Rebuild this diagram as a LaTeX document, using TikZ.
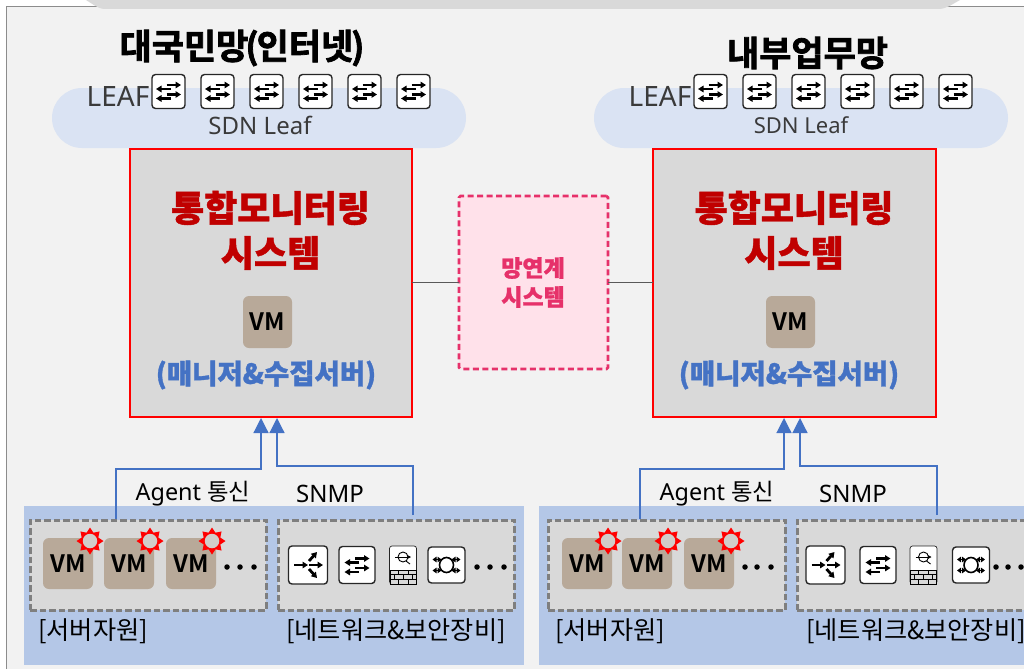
\documentclass[tikz,border=0pt]{standalone}
\usepackage{fontspec}
\setmainfont{Noto Sans CJK KR}[BoldFeatures={FakeBold=1.2}]
\newfontfamily\latinf{Noto Sans}
\newfontfamily\vmf{Noto Sans CJK KR Bold}
\newfontfamily\heavy{Noto Sans CJK KR Bold}[FakeBold=2.2]
\usetikzlibrary{arrows.meta,shapes.geometric,calc}
\definecolor{bgpanel}{HTML}{F2F2F2}
\definecolor{panelgray}{HTML}{D9D9D9}
\definecolor{pillblue}{HTML}{DAE3F3}
\definecolor{bandblue}{HTML}{B4C7E7}
\definecolor{vmtan}{HTML}{B8A999}
\definecolor{linkblue}{HTML}{4472C4}
\definecolor{pinkedge}{HTML}{E6316A}
\definecolor{pinkfill}{HTML}{FFE1EA}
\definecolor{darkred}{HTML}{C00000}
\definecolor{txtdark}{HTML}{3A3A3A}
\definecolor{dashgray}{HTML}{7F7F7F}
\tikzset{
  x=1pt,y=-1pt,
  fs/.style={font=\fontsize{#1}{#1}\selectfont},
  fsb/.style={font=\fontsize{#1}{#1}\selectfont\bfseries},
  fsh/.style={font=\fontsize{#1}{#1}\selectfont\heavy},
  plain/.style={inner sep=0pt,outer sep=0pt},
  pill/.style={plain,fill=pillblue,rounded corners=30pt},
  monbox/.style={plain,draw=red,line width=2.6pt,fill=panelgray},
  gatebox/.style={plain,draw=pinkedge,line width=2.6pt,fill=pinkfill,rounded corners=1.5pt,dash pattern=on 6pt off 3.5pt},
  band/.style={plain,fill=bandblue},
  groupbox/.style={plain,draw=dashgray,line width=3pt,fill=panelgray,dash pattern=on 6.5pt off 3pt},
  vmbox/.style={plain,fill=vmtan,rounded corners=6pt,minimum width=50pt,minimum height=51pt,font=\fontsize{24}{24}\selectfont\vmf,text=black},
  iconbox/.style={plain,draw=black!85,line width=1.4pt,fill=white,rounded corners=3.5pt},
  glyph/.style={line width=2.2pt,black,-{Triangle[width=6.5pt,length=5.5pt]}},
  feed/.style={linkblue,line width=1.2pt,-{Triangle[width=15pt,length=15pt]}},
  plainlink/.style={draw=black!65,line width=0.9pt},
  burst/.style={plain,star,star points=8,star point ratio=1.5,fill=red,minimum size=27pt},
  burstcore/.style={plain,circle,fill=#1,minimum size=14.5pt},
  dotmark/.style={plain,circle,fill=black,minimum size=5.5pt},
}
% name, cx, cy, w, h
\newcommand{\swicon}[5]{%
  \node[iconbox,minimum width=#4,minimum height=#5] (#1) at (#2,#3) {};
  \begin{scope}[shift={(#2,#3)}]
    \draw[glyph] (-2,-6.5) -- (12.5,-6.5);
    \draw[glyph] (2,-2.5) -- (-12.5,-2.5);
    \draw[glyph] (-2,3) -- (12.5,3);
    \draw[glyph] (2,7) -- (-12.5,7);
  \end{scope}}
\newcommand{\fanicon}[3]{%
  \node[iconbox,minimum width=39pt,minimum height=38pt] (#1) at (#2,#3) {};
  \begin{scope}[shift={(#2,#3)}]
    \draw[glyph] (-14,0) -- (0,0);
    \draw[glyph] (1,0) -- (15,0);
    \draw[glyph,line width=2.8pt] (1,-4) -- (9,-13);
    \draw[glyph,line width=2.8pt] (1,4) -- (9,13);
  \end{scope}}
\newcommand{\wallicon}[3]{%
  \node[iconbox,fill=white,line width=0.7pt,rounded corners=2.5pt,minimum width=27pt,minimum height=38pt] (#1) at (#2,#3) {};
  \begin{scope}[shift={(#2,#3)}]
    \draw[line width=0.9pt] (0,-8) circle (5);
    \draw[line width=0.8pt,-{Triangle[width=3.5pt,length=3.5pt]}] (-8,-8) -- (8,-8);
    \draw[line width=0.9pt] (3,-4) -- (7,-1);
    \draw[line width=0.5pt,fill=white!85!black] (-13,5) rectangle (13,19);
    \foreach \yy in {9.7,14.4} \draw[line width=0.5pt] (-13,\yy) -- (13,\yy);
    \foreach \xx in {-5,5} \draw[line width=0.5pt] (\xx,5) -- (\xx,9.7) (\xx,14.4) -- (\xx,19);
    \foreach \xx in {-9,0,9} \draw[line width=0.5pt] (\xx,9.7) -- (\xx,14.4);
  \end{scope}}
\newcommand{\ringicon}[3]{%
  \node[iconbox,minimum width=37pt,minimum height=36pt] (#1) at (#2,#3) {};
  \begin{scope}[shift={(#2,#3)}]
    \foreach \sx/\sy in {-1/-1,1/-1,-1/1,1/1}
      \draw[line width=1.6pt,black,{Triangle[width=5.5pt,length=4pt]}-{Triangle[width=5.5pt,length=4pt]}] (\sx*14,\sy*5.5) -- (\sx*5,\sy*5.5);
    \draw[line width=1.6pt,fill=white] (0,0) ellipse (7 and 7.5);
  \end{scope}}
\newcommand{\vmburst}[5]{% name, vm cx, vm cy, star cx, star cy
  \node[vmbox] (#1) at (#2,#3) {VM};
  \node[burst] (#1star) at (#4,#5) {};
  \node[burstcore=panelgray!75!vmtan] (#1core) at (#4,#5) {};}
\begin{document}
\begin{tikzpicture}
\useasboundingbox (0,0) rectangle (1024,669);
\clip (0,0) rectangle (1024,669);
\fill[white] (0,0) rectangle (1024,669);
\fill[bgpanel] (6,7) rectangle (1030,669);
\draw[black!45,line width=1pt] (6,669) -- (6,7) -- (1030,7);
\fill[panelgray] (84,-1) .. controls (92,3) and (96,8) .. (104,9) -- (940,9) .. controls (948,8) and (954,3) .. (962,-1) -- cycle;

% ---- left column
\node[fsh=35,plain] (titleL) at (241,48) {대국민망{\kern-3pt}({\kern-2pt}인터넷{\kern-2pt}){\kern-2pt}};
\node[pill,minimum width=414pt,minimum height=60pt] (pillL) at (259,118) {};
\node[fs=28,plain,text=txtdark] (leafL) at (118,96) {\latinf LEAF};
\node[fs=24,plain,text=txtdark] (sdnL) at (260,125) {\latinf SDN Leaf};
\swicon{swLa}{168.5}{91.5}{33pt}{34pt}
\swicon{swLb}{217.5}{91.5}{33pt}{34pt}
\swicon{swLc}{266.5}{91.5}{33pt}{34pt}
\swicon{swLd}{315.5}{91.5}{33pt}{34pt}
\swicon{swLe}{364.5}{91.5}{33pt}{34pt}
\swicon{swLf}{413.5}{91.5}{33pt}{34pt}

\node[monbox,minimum width=282pt,minimum height=268pt] (monL) at (271,283) {};
\node[fsb=36,plain,text=darkred] (monLa) at (270.5,208) {통합모니터링};
\node[fsb=36,plain,text=darkred] (monLb) at (270.5,253) {시스템};
\node[vmbox,minimum width=49pt,minimum height=52pt] (mgrL) at (267.5,322) {VM};
\node[fsb=27.5,plain,text=linkblue] (mgrLt) at (266,375) {(매니저\&수집서버)};

% ---- gateway
\node[gatebox,minimum width=149pt,minimum height=173pt] (gate) at (533.5,282.5) {};
\node[fsb=23,plain,text=pinkedge,align=center] (gateT) at (533,268) {망연계};
\node[fsb=23,plain,text=pinkedge,align=center] (gateB) at (533,297) {시스템};

% ---- right column
\node[fsh=35,plain] (titleR) at (807.5,53) {내부업무망};
\node[pill,minimum width=414pt,minimum height=60pt] (pillR) at (801,118) {};
\node[fs=28,plain,text=txtdark] (leafR) at (660,96) {\latinf LEAF};
\node[fs=22,plain,text=txtdark] (sdnR) at (801,125) {\latinf SDN Leaf};
\swicon{swRa}{710.5}{91.5}{33pt}{34pt}
\swicon{swRb}{759.5}{91.5}{33pt}{34pt}
\swicon{swRc}{808.5}{91.5}{33pt}{34pt}
\swicon{swRd}{857.5}{91.5}{33pt}{34pt}
\swicon{swRe}{906.5}{91.5}{33pt}{34pt}
\swicon{swRf}{955.5}{91.5}{33pt}{34pt}

\node[monbox,minimum width=283pt,minimum height=268pt] (monR) at (794.5,283) {};
\node[fsb=36,plain,text=darkred] (monRa) at (794,208) {통합모니터링};
\node[fsb=36,plain,text=darkred] (monRb) at (794,253) {시스템};
\node[vmbox,minimum width=49pt,minimum height=52pt] (mgrR) at (790.5,322) {VM};
\node[fsb=27.5,plain,text=linkblue] (mgrRt) at (789,375) {(매니저\&수집서버)};

\draw[plainlink] (monL.east |- gate.west) -- (gate.west);
\draw[plainlink] (gate.east) -- (monR.west |- gate.east);

% ---- bottom bands
\node[band,minimum width=500pt,minimum height=159pt] (bandL) at (274,585.5) {};
\node[band,minimum width=490pt,minimum height=159pt] (bandR) at (784,585.5) {};

\node[groupbox,minimum width=236pt,minimum height=90pt] (srvL) at (148,565) {};
\node[groupbox,minimum width=236pt,minimum height=90pt] (netL) at (396,565) {};
\node[groupbox,minimum width=237pt,minimum height=90pt] (srvR) at (666.5,565) {};
\node[groupbox,minimum width=236pt,minimum height=90pt] (netR) at (915,565) {};

\vmburst{vmLa}{68}{563.5}{90}{541}
\vmburst{vmLb}{129}{563.5}{150}{541}
\vmburst{vmLc}{191}{563.5}{212}{541}
\node[dotmark] (dLa) at (227,567) {};
\node[dotmark] (dLb) at (240,567) {};
\node[dotmark] (dLc) at (254,567) {};

\fanicon{fanL}{308}{565}
\swicon{swLn}{357}{565}{36pt}{37pt}
\wallicon{fwL}{403}{565}
\ringicon{rgL}{446.5}{565}
\node[dotmark] (dLd) at (477,567) {};
\node[dotmark] (dLe) at (490,567) {};
\node[dotmark] (dLf) at (504,567) {};

\vmburst{vmRa}{587}{563.5}{608}{541}
\vmburst{vmRb}{647}{563.5}{668}{541}
\vmburst{vmRc}{709}{563.5}{731}{541}
\node[dotmark] (dRa) at (745,567) {};
\node[dotmark] (dRb) at (757,567) {};
\node[dotmark] (dRc) at (771,567) {};

\fanicon{fanR}{825.5}{565}
\swicon{swRn}{878}{565}{36pt}{37pt}
\wallicon{fwR}{923.5}{565}
\ringicon{rgR}{971}{565}
\node[dotmark] (dRd) at (996,567) {};
\node[dotmark] (dRe) at (1008,567) {};
\node[dotmark] (dRf) at (1021,567) {};

\node[fs=25.2,plain] (lblSL) at (93,631) {[서버자원]};
\node[fs=25.2,plain] (lblNL) at (396,631) {[네트워크\&보안장비]};
\node[fs=25.2,plain] (lblSR) at (610,631) {[서버자원]};
\node[fs=25.2,plain] (lblNR) at (916,631) {[네트워크\&보안장비]};

\node[fs=23.4,plain] (agL) at (193,494) {\latinf Agent {\rmfamily 통신}};
\node[fs=24,plain] (snL) at (330,494) {\latinf SNMP};
\node[fs=23.4,plain] (agR) at (717,494) {\latinf Agent {\rmfamily 통신}};
\node[fs=24,plain] (snR) at (853,494) {\latinf SNMP};

% ---- feed arrows
\coordinate (agLs) at (116,519);
\coordinate (snLs) at (413,515);
\coordinate (agRs) at (640,519);
\coordinate (snRs) at (937,515);
\coordinate (agLe) at (261,418);
\coordinate (snLe) at (277,418);
\coordinate (agRe) at (784,418);
\coordinate (snRe) at (800,418);
\draw[feed] (agLs) |- (179,469) -| (agLe);
\draw[feed] (snLs) |- (345,466) -| (snLe);
\draw[feed] (agRs) |- (712,469) -| (agRe);
\draw[feed] (snRs) |- (868,466) -| (snRe);
\end{tikzpicture}
\end{document}
